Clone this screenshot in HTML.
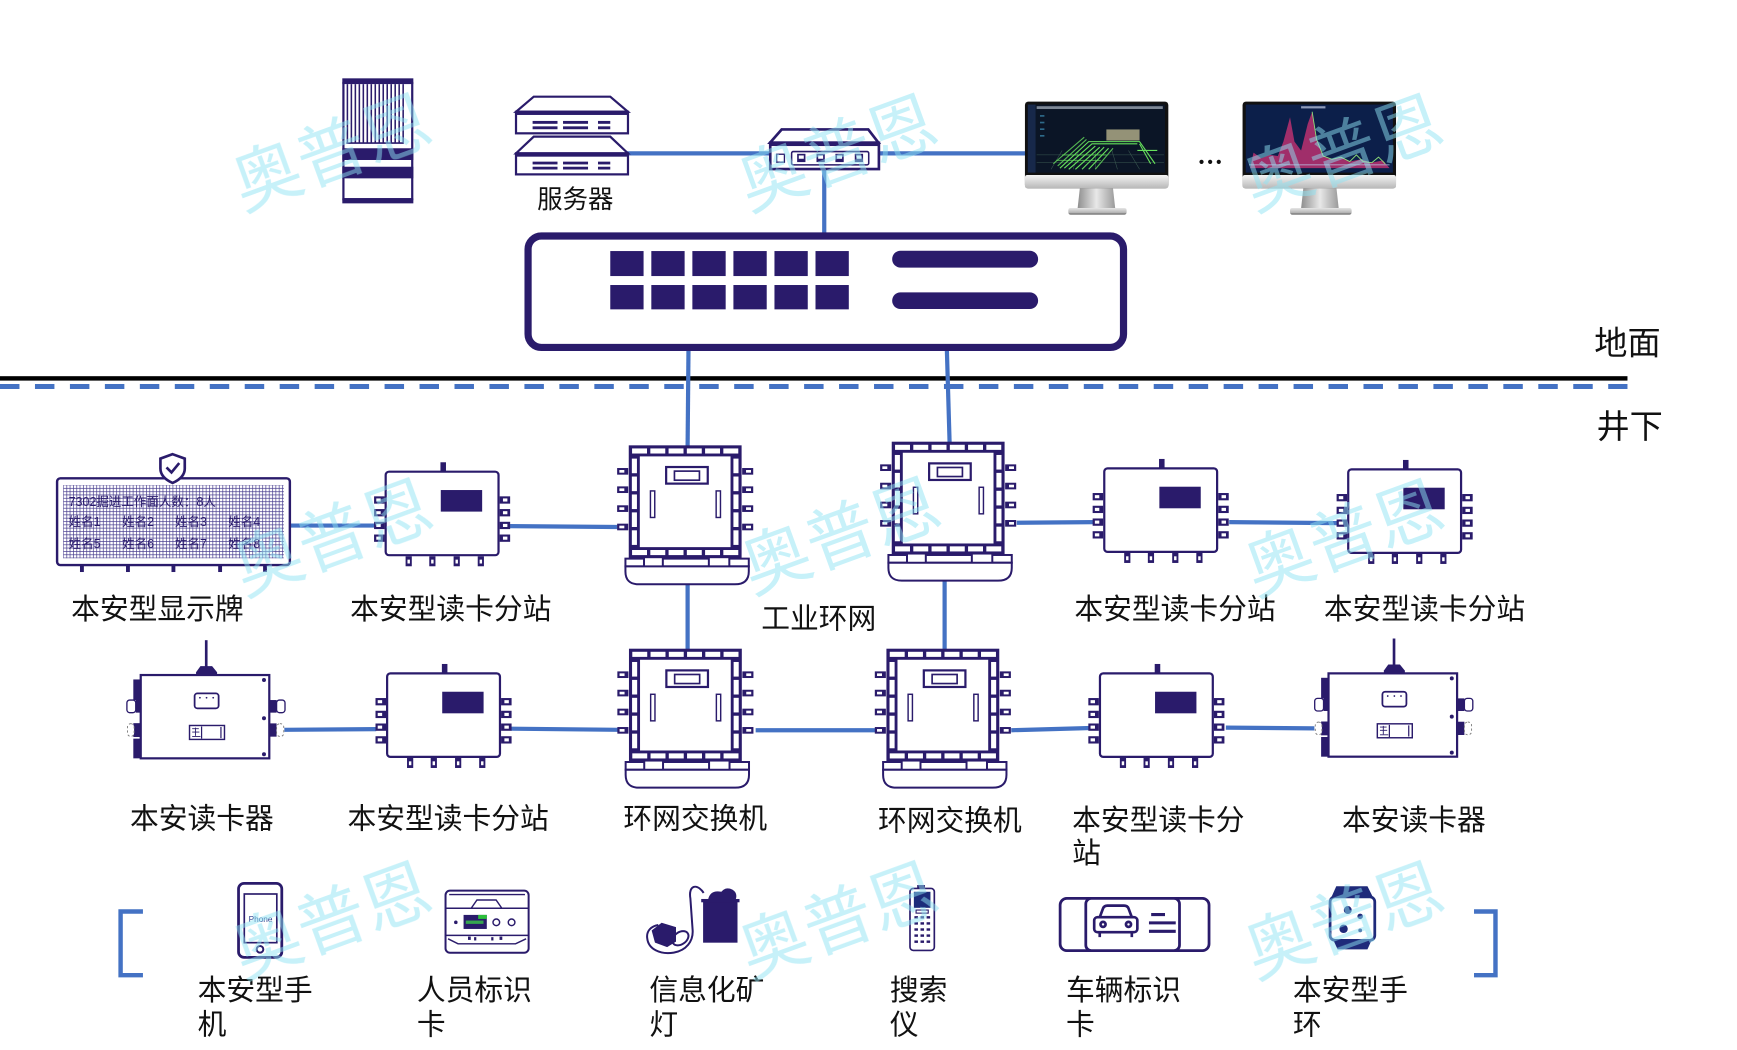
<!DOCTYPE html>
<html><head><meta charset="utf-8"><style>
html,body{margin:0;padding:0;background:#fff;overflow:hidden;}
svg{display:block;}
text{font-family:"Liberation Sans","Noto Sans CJK SC",sans-serif;}
</style></head><body>
<svg width="1737" height="1050" viewBox="0 0 1570 949" preserveAspectRatio="none" xmlns="http://www.w3.org/2000/svg">
<defs>
 <pattern id="grid" width="3" height="3" patternUnits="userSpaceOnUse">
  <rect width="3" height="3" fill="#fff"/>
  <path d="M0,0.3H3M0.3,0V3" stroke="#4a3f90" stroke-width="0.65"/>
 </pattern>
 <linearGradient id="silver" x1="0" y1="0" x2="0" y2="1">
  <stop offset="0" stop-color="#f4f4f4"/><stop offset="1" stop-color="#b8b8b8"/>
 </linearGradient>
 <linearGradient id="neck" x1="0" y1="0" x2="1" y2="0">
  <stop offset="0" stop-color="#8e8e8e"/><stop offset="0.5" stop-color="#e8e8e8"/><stop offset="1" stop-color="#9a9a9a"/>
 </linearGradient>
 <linearGradient id="base" x1="0" y1="0" x2="0" y2="1">
  <stop offset="0" stop-color="#e6e6e6"/><stop offset="0.7" stop-color="#b5b5b5"/><stop offset="1" stop-color="#555"/>
 </linearGradient>

 <g id="station">
  <rect x="0" y="0" width="102" height="75.5" rx="3" fill="#fff" stroke="#2a1b6b" stroke-width="2"/>
  <rect x="49.5" y="-8.5" width="5" height="8.5" fill="#2a1b6b"/>
  <rect x="49.8" y="16.6" width="37.4" height="19.5" fill="#2a1b6b"/>
  <g fill="#2a1b6b">
   <rect x="-10.5" y="22.3" width="9.5" height="6.6"/><rect x="-10.5" y="33.8" width="9.5" height="6.6"/>
   <rect x="-10.5" y="45.3" width="9.5" height="6.6"/><rect x="-10.5" y="56.8" width="9.5" height="6.6"/>
   <rect x="103" y="22.3" width="9.5" height="6.6"/><rect x="103" y="33.8" width="9.5" height="6.6"/>
   <rect x="103" y="45.3" width="9.5" height="6.6"/><rect x="103" y="56.8" width="9.5" height="6.6"/>
   <rect x="18" y="76.5" width="5.6" height="9"/><rect x="39.4" y="76.5" width="5.6" height="9"/>
   <rect x="61.4" y="76.5" width="5.6" height="9"/><rect x="83.2" y="76.5" width="5.6" height="9"/>
  </g>
  <g fill="#fff">
   <rect x="-8.5" y="24.2" width="4" height="2.8"/><rect x="-8.5" y="35.7" width="4" height="2.8"/>
   <rect x="-8.5" y="47.2" width="4" height="2.8"/><rect x="-8.5" y="58.7" width="4" height="2.8"/>
   <rect x="106" y="24.2" width="4" height="2.8"/><rect x="106" y="35.7" width="4" height="2.8"/>
   <rect x="106" y="47.2" width="4" height="2.8"/><rect x="106" y="58.7" width="4" height="2.8"/>
   <rect x="19.7" y="79.5" width="2.2" height="3.5"/><rect x="41.1" y="79.5" width="2.2" height="3.5"/>
   <rect x="63.1" y="79.5" width="2.2" height="3.5"/><rect x="84.9" y="79.5" width="2.2" height="3.5"/>
  </g>
 </g>

 <g id="rsw">
  <rect x="0" y="0" width="102" height="102" fill="#2a1b6b"/>
  <g fill="#fff">
   <rect x="3" y="2.8" width="13.5" height="4.6"/><rect x="19.5" y="2.8" width="13.5" height="4.6"/>
   <rect x="36" y="2.8" width="13.5" height="4.6"/><rect x="52.5" y="2.8" width="13.5" height="4.6"/>
   <rect x="69" y="2.8" width="13.5" height="4.6"/><rect x="85.5" y="2.8" width="13.5" height="4.6"/>
   <rect x="3" y="94.6" width="13.5" height="4.6"/><rect x="19.5" y="94.6" width="13.5" height="4.6"/>
   <rect x="36" y="94.6" width="13.5" height="4.6"/><rect x="52.5" y="94.6" width="13.5" height="4.6"/>
   <rect x="69" y="94.6" width="13.5" height="4.6"/><rect x="85.5" y="94.6" width="13.5" height="4.6"/>
   <rect x="2.8" y="12" width="4.6" height="13.2"/><rect x="2.8" y="28.2" width="4.6" height="13.2"/>
   <rect x="2.8" y="44.4" width="4.6" height="13.2"/><rect x="2.8" y="60.6" width="4.6" height="13.2"/>
   <rect x="2.8" y="76.8" width="4.6" height="13.2"/>
   <rect x="94.6" y="12" width="4.6" height="13.2"/><rect x="94.6" y="28.2" width="4.6" height="13.2"/>
   <rect x="94.6" y="44.4" width="4.6" height="13.2"/><rect x="94.6" y="60.6" width="4.6" height="13.2"/>
   <rect x="94.6" y="76.8" width="4.6" height="13.2"/>
   <rect x="10" y="10" width="82" height="82"/>
  </g>
  <rect x="33.8" y="19.6" width="37.6" height="15" fill="#fff" stroke="#2a1b6b" stroke-width="2"/>
  <rect x="41.3" y="23.3" width="22.6" height="8.2" fill="none" stroke="#2a1b6b" stroke-width="1.5"/>
  <rect x="19.6" y="41.2" width="3.9" height="24" fill="#fff" stroke="#2a1b6b" stroke-width="1.3"/>
  <rect x="79" y="41.2" width="3.9" height="24" fill="#fff" stroke="#2a1b6b" stroke-width="1.3"/>
  <g fill="#2a1b6b">
   <rect x="-10.5" y="20.5" width="10" height="6"/><rect x="-10.5" y="37.1" width="10" height="6"/>
   <rect x="-10.5" y="54.2" width="10" height="6"/><rect x="-10.5" y="70.8" width="10" height="6"/>
   <rect x="102.5" y="20.5" width="10" height="6"/><rect x="102.5" y="37.1" width="10" height="6"/>
   <rect x="102.5" y="54.2" width="10" height="6"/><rect x="102.5" y="70.8" width="10" height="6"/>
  </g>
  <g fill="#fff">
   <rect x="-8.5" y="22.3" width="4.5" height="2.4"/><rect x="-8.5" y="38.9" width="4.5" height="2.4"/>
   <rect x="-8.5" y="56" width="4.5" height="2.4"/><rect x="-8.5" y="72.6" width="4.5" height="2.4"/>
   <rect x="106" y="22.3" width="4.5" height="2.4"/><rect x="106" y="38.9" width="4.5" height="2.4"/>
   <rect x="106" y="56" width="4.5" height="2.4"/><rect x="106" y="72.6" width="4.5" height="2.4"/>
  </g>
  <g fill="#fff" stroke="#2a1b6b" stroke-width="1.8">
   <rect x="-3" y="102.4" width="16.8" height="7"/>
   <rect x="30.8" y="102.4" width="41.6" height="7"/>
   <rect x="90.9" y="102.4" width="17.6" height="7"/>
   <path d="M-3,109.4 H108.5 V114 Q108.5,125.6 96,125.6 H9 Q-3,125.6 -3,114 Z"/>
  </g>
 </g>

 <g id="rdr">
  <rect x="0" y="0" width="116.2" height="75.3" fill="#fff" stroke="#2a1b6b" stroke-width="2"/>
  <rect x="58" y="-31.5" width="2.4" height="26" fill="#2a1b6b"/>
  <polygon points="54,-8 64.5,-8 69,-2.5 69,0 50,0 50,-2.5" fill="#2a1b6b"/>
  <g fill="#2a1b6b">
   <rect x="-6.7" y="4" width="7" height="18.6"/>
   <rect x="-4.5" y="22" width="4.5" height="12"/>
   <rect x="-6.7" y="43.5" width="7" height="12.5"/>
   <rect x="-6.7" y="57.5" width="7" height="17.8"/>
   <rect x="116" y="22.6" width="6.8" height="11.4"/>
   <rect x="116" y="43.7" width="6.8" height="12"/>
  </g>
  <rect x="-12.5" y="22.6" width="8" height="11.4" rx="2.5" fill="#fff" stroke="#2a1b6b" stroke-width="1.2"/>
  <rect x="-12" y="44" width="6" height="11.5" rx="3" fill="#fff" stroke="#777" stroke-width="0.8" stroke-dasharray="2 2"/>
  <rect x="122.8" y="22.6" width="7.6" height="11.4" rx="2.5" fill="#fff" stroke="#2a1b6b" stroke-width="1.2"/>
  <rect x="122.8" y="44" width="6.5" height="11.5" rx="3" fill="#fff" stroke="#777" stroke-width="0.8" stroke-dasharray="2 2"/>
  <rect x="48.7" y="16.6" width="21.7" height="13.5" rx="2.5" fill="#fff" stroke="#2a1b6b" stroke-width="1.6"/>
  <g fill="#2a1b6b"><circle cx="53.5" cy="20.5" r="0.8"/><circle cx="59.5" cy="20.5" r="0.8"/><circle cx="65.5" cy="20.5" r="0.8"/></g>
  <rect x="44.1" y="45.6" width="31.6" height="12.6" fill="#fff" stroke="#2a1b6b" stroke-width="1.3"/>
  <path d="M55,46.5 V57.5 M72.5,47 V57" stroke="#2a1b6b" stroke-width="1.1"/>
  <path d="M46.5,48.5 H52.5 M46.5,51.5 H53 M49.5,47.5 V55 M46.5,55.5 H54" stroke="#2a1b6b" stroke-width="0.8" fill="none"/>
  <g fill="#2a1b6b"><circle cx="111.4" cy="4.5" r="1.8"/><circle cx="111.4" cy="39.1" r="1.8"/><circle cx="111.4" cy="71.6" r="1.8"/></g>
 </g>
</defs>

<!-- ground lines -->
<rect x="0" y="340" width="1471" height="4" fill="#000"/>
<line x1="0" y1="349.3" x2="1471" y2="349.3" stroke="#4472c4" stroke-width="4.5" stroke-dasharray="17.6 14"/>

<!-- blue connectors -->
<g stroke="#4472c4" stroke-width="3.8" fill="none">
 <line x1="566" y1="138.6" x2="697" y2="138.6"/>
 <line x1="794" y1="138.6" x2="927" y2="138.6"/>
 <line x1="745" y1="152" x2="745" y2="212"/>
 <line x1="622.3" y1="315" x2="621.5" y2="403"/>
 <line x1="855.8" y1="315" x2="858.3" y2="400"/>
 <line x1="261" y1="475" x2="339" y2="475"/>
 <line x1="461" y1="475.5" x2="558" y2="476.3"/>
 <line x1="621.5" y1="527" x2="621.5" y2="587"/>
 <line x1="919" y1="472.5" x2="989" y2="471.9"/>
 <line x1="1111" y1="471.9" x2="1209" y2="472.8"/>
 <line x1="853.8" y1="524" x2="853.8" y2="587"/>
 <line x1="257" y1="659.6" x2="340" y2="659"/>
 <line x1="462" y1="658.6" x2="559" y2="659.6"/>
 <line x1="683" y1="660" x2="791" y2="660"/>
 <line x1="914" y1="660" x2="986" y2="658"/>
 <line x1="1108" y1="657.6" x2="1188" y2="658.3"/>
</g>

<!-- tower rack -->
<g>
 <rect x="309.4" y="70.8" width="64.2" height="5.2" fill="#2a1b6b"/>
 <rect x="310.4" y="75" width="62.2" height="105" fill="#fff" stroke="#2a1b6b" stroke-width="2"/>
 <g stroke="#2a1b6b" stroke-width="1.4">
  <path d="M314,76 V129 M317.6,76 V129 M321.2,76 V129 M324.8,76 V129 M328.4,76 V129 M332,76 V129 M335.6,76 V129 M339.2,76 V129 M342.8,76 V129 M346.4,76 V129 M350,76 V129 M353.6,76 V129 M357.2,76 V129 M360.8,76 V129 M364.4,76 V129"/>
  <path d="M313,129.3 H365"/>
 </g>
 <rect x="309.4" y="134" width="64.2" height="10.6" fill="#2a1b6b"/>
 <rect x="309.4" y="150.7" width="64.2" height="10.5" fill="#2a1b6b"/>
 <rect x="309.4" y="179.3" width="64.2" height="4.5" fill="#2a1b6b"/>
</g>

<!-- servers -->
<g fill="#fff" stroke="#2a1b6b" stroke-width="2">
 <path d="M482.4,87.4 H551.6 L567.6,101 H466.4 Z"/>
 <rect x="466.4" y="101" width="101.2" height="19.5"/>
 <path d="M482.4,123.5 H551.6 L567.6,138.6 H466.4 Z"/>
 <rect x="466.4" y="138.6" width="101.2" height="19"/>
</g>
<g fill="#2a1b6b">
 <rect x="466.4" y="100.9" width="101.2" height="3"/>
 <rect x="466.4" y="138.6" width="101.2" height="3"/>
 <rect x="481.4" y="109.3" width="22.5" height="2.6"/><rect x="508.9" y="109.3" width="22.6" height="2.6"/><rect x="540.5" y="109.3" width="11.1" height="2.6"/>
 <rect x="481.4" y="114.2" width="22.5" height="2.6"/><rect x="508.9" y="114.2" width="22.6" height="2.6"/><rect x="540.5" y="114.2" width="11.1" height="2.6"/>
 <rect x="481.4" y="146.1" width="22.5" height="2.5"/><rect x="508.9" y="146.1" width="22.6" height="2.5"/><rect x="540.5" y="146.1" width="11.1" height="2.5"/>
 <rect x="481.4" y="150.7" width="22.5" height="2.5"/><rect x="508.9" y="150.7" width="22.6" height="2.5"/><rect x="540.5" y="150.7" width="11.1" height="2.5"/>
</g>
<text x="520" y="188" font-size="23" text-anchor="middle" fill="#111">服务器</text>

<!-- hub -->
<g fill="#fff" stroke="#2a1b6b" stroke-width="2.4">
 <path d="M706.5,117 H784.8 L794,129 H696 Z"/>
 <rect x="696.2" y="129" width="98.2" height="23.8"/>
</g>
<rect x="696" y="128" width="98.6" height="4" fill="#2a1b6b"/>
<rect x="702" y="139.4" width="7" height="7.2" fill="#fff" stroke="#2a1b6b" stroke-width="1.2"/>
<rect x="715.5" y="137" width="69.7" height="12" rx="1.5" fill="#fff" stroke="#2a1b6b" stroke-width="1.4"/>
<g fill="#2a1b6b">
 <rect x="720.5" y="139" width="7.5" height="7.5"/><rect x="738" y="139" width="7.5" height="7.5"/>
 <rect x="755.1" y="139" width="7.5" height="7.5"/><rect x="772.6" y="139" width="7.5" height="7.5"/>
</g>
<g fill="#fff">
 <rect x="722" y="140.5" width="4.5" height="3"/><rect x="739.5" y="140.5" width="4.5" height="3"/>
 <rect x="756.6" y="140.5" width="4.5" height="3"/><rect x="774.1" y="140.5" width="4.5" height="3"/>
</g>

<!-- monitor 1 -->
<g>
 <rect x="926.4" y="91.9" width="129.6" height="78.3" rx="3" fill="#111"/>
 <rect x="926.4" y="158.2" width="129.6" height="12" rx="2" fill="url(#silver)"/>
 <rect x="929" y="94.5" width="124" height="61.5" fill="#0b1526"/>
 <rect x="929" y="94.5" width="7" height="61.5" fill="#17284a"/>
 <rect x="937" y="96" width="114" height="2.5" fill="#c9d3e0" opacity="0.6"/>
 <g stroke="#3b5a52" stroke-width="0.5">
  <path d="M937,140 H1052 M937,147 H1052 M950,153 L960,136 M970,153 L975,136 M990,153 L990,136 M1010,153 L1005,136 M1030,153 L1020,136"/>
 </g>
 <g stroke="#66e05c" stroke-width="1" fill="none">
  <path d="M958,152 L984,128 H1030 L1044,148"/>
  <path d="M962,152 L987,130 H1028"/>
  <path d="M966,153 L990,132 M972,153 L994,133 M978,153 L998,133 M984,153 L1002,134"/>
  <path d="M1030,130 L1040,148 M1028,136 H1046"/>
  <path d="M952,148 L980,124 M956,150 L982,126 M990,153 L1006,134" opacity="0.8"/>
  <path d="M960,140 H1000 M955,145 H995" opacity="0.6"/>
 </g>
 <g fill="#2e6a8a"><rect x="940" y="104" width="4" height="1.5"/><rect x="940" y="110" width="4" height="1.5"/><rect x="940" y="116" width="4" height="1.5"/><rect x="940" y="122" width="4" height="1.5"/></g>
 <rect x="1000" y="117" width="30" height="10" fill="#b7b28c" opacity="0.8"/>
 <polygon points="976,170.2 1006,170.2 1008,188.3 974,188.3" fill="url(#neck)"/>
 <rect x="965.6" y="188" width="52.7" height="6" rx="2" fill="url(#base)"/>
</g>
<g fill="#111"><circle cx="1086" cy="146.3" r="1.9"/><circle cx="1093.8" cy="146.3" r="1.9"/><circle cx="1101.6" cy="146.3" r="1.9"/></g>
<!-- monitor 2 -->
<g>
 <rect x="1123.1" y="91.9" width="138.7" height="78.3" rx="3" fill="#111"/>
 <rect x="1123.1" y="158.2" width="138.7" height="12" rx="2" fill="url(#silver)"/>
 <rect x="1126" y="94.5" width="133" height="61.5" fill="#0c1f4a"/>
 <path d="M1130,152 L1133,138 L1140,143 L1148,140 L1155,141 L1160,128 L1166,106 L1170,128 L1176,136 L1182,112 L1186,101 L1190,126 L1196,141 L1204,144 L1212,142 L1220,146 L1230,144 L1240,147 L1250,145 L1256,152 Z" fill="#b0306e" opacity="0.9"/>
 <path d="M1186,101 L1190,126 L1196,141 L1204,144 L1212,142 L1220,146 L1226,140 L1232,146 L1240,147 L1246,142 L1252,148" stroke="#8fe07a" stroke-width="0.8" fill="none"/>
 <line x1="1129" y1="149" x2="1256" y2="149" stroke="#b8c6e6" stroke-width="0.6"/>
 <rect x="1176" y="96" width="22" height="2" fill="#c8d2ea" opacity="0.7"/>
 <polygon points="1178,170.2 1208,170.2 1210,188.3 1176,188.3" fill="url(#neck)"/>
 <rect x="1166" y="188" width="55.7" height="6" rx="2" fill="url(#base)"/>
</g>

<!-- big switch -->
<rect x="477.3" y="213.3" width="538.2" height="100.7" rx="12" fill="#fff" stroke="#2a1b6b" stroke-width="6.5"/>
<g fill="#2a1b6b">
 <rect x="551.6" y="226.9" width="30.1" height="22.6"/><rect x="588.7" y="226.9" width="30.1" height="22.6"/>
 <rect x="625.8" y="226.9" width="30.1" height="22.6"/><rect x="662.9" y="226.9" width="30.1" height="22.6"/>
 <rect x="700" y="226.9" width="30.1" height="22.6"/><rect x="737.1" y="226.9" width="30.1" height="22.6"/>
 <rect x="551.6" y="257.6" width="30.1" height="22"/><rect x="588.7" y="257.6" width="30.1" height="22"/>
 <rect x="625.8" y="257.6" width="30.1" height="22"/><rect x="662.9" y="257.6" width="30.1" height="22"/>
 <rect x="700" y="257.6" width="30.1" height="22"/><rect x="737.1" y="257.6" width="30.1" height="22"/>
 <rect x="806.4" y="226.6" width="131.9" height="15.3" rx="7.6"/>
 <rect x="806.4" y="264.2" width="131.9" height="15.1" rx="7.5"/>
</g>

<text x="1471" y="320.5" font-size="30" text-anchor="middle" fill="#111">地面</text>
<text x="1473" y="396" font-size="30" text-anchor="middle" fill="#111">井下</text>

<!-- display board -->
<rect x="51.6" y="432.3" width="210.4" height="78.4" rx="3" fill="#fff" stroke="#2a1b6b" stroke-width="2.2"/>
<rect x="57.1" y="438.4" width="199.5" height="66.2" fill="url(#grid)"/>
<g font-size="11.3" fill="#2a1b6b">
 <text x="62" y="457.5">7302掘进工作面人数：8人</text>
 <text x="62" y="475.6">姓名1</text><text x="110.4" y="475.6">姓名2</text><text x="158.2" y="475.6">姓名3</text><text x="206.3" y="475.6">姓名4</text>
 <text x="62" y="495.1">姓名5</text><text x="110.4" y="495.1">姓名6</text><text x="158.2" y="495.1">姓名7</text><text x="206.3" y="495.1">姓名8</text>
</g>
<g fill="#2a1b6b">
 <rect x="72.3" y="511" width="3.5" height="6"/><rect x="113.9" y="511" width="3.5" height="6"/>
 <rect x="155" y="511" width="3.5" height="6"/><rect x="197.2" y="511" width="3.5" height="6"/>
 <rect x="237.8" y="511" width="3.5" height="6"/>
</g>
<path d="M156,410.5 L167,414.5 V423.5 Q167,431.5 156,436.5 Q145,431.5 145,423.5 V414.5 Z" fill="#fff" stroke="#2a1b6b" stroke-width="2.4"/>
<path d="M150.5,422.5 L155,427 L162,418.5" fill="none" stroke="#2a1b6b" stroke-width="2.4"/>

<!-- stations -->
<use href="#station" x="348.6" y="426.3"/>
<use href="#station" x="349.9" y="608.6"/>
<use href="#station" x="998.1" y="423.3"/>
<use href="#station" x="1218.6" y="424.2"/>
<use href="#station" x="994.2" y="608.6"/>

<!-- ring switches -->
<use href="#rsw" x="568.3" y="402.5"/>
<use href="#rsw" x="806" y="399.2"/>
<use href="#rsw" x="568.5" y="586.3"/>
<use href="#rsw" x="801.2" y="586.3"/>

<!-- readers -->
<use href="#rdr" x="127.2" y="610.1"/>
<use href="#rdr" x="1200.8" y="608.6"/>

<!-- labels -->
<g font-size="26" fill="#111">
 <text x="142.3" y="559.5" text-anchor="middle">本安型显示牌</text>
 <text x="407.4" y="559.5" text-anchor="middle">本安型读卡分站</text>
 <text x="740" y="568" text-anchor="middle">工业环网</text>
 <text x="1062" y="559.5" text-anchor="middle">本安型读卡分站</text>
 <text x="1287.5" y="559.5" text-anchor="middle">本安型读卡分站</text>
 <text x="182.5" y="749" text-anchor="middle">本安读卡器</text>
 <text x="405" y="749" text-anchor="middle">本安型读卡分站</text>
 <text x="628.4" y="749" text-anchor="middle">环网交换机</text>
 <text x="858.6" y="750.5" text-anchor="middle">环网交换机</text>
 <text x="969" y="750">本安型读卡分</text>
 <text x="969" y="780">站</text>
 <text x="1278" y="750" text-anchor="middle">本安读卡器</text>
 <text x="178.6" y="904">本安型手</text><text x="178.6" y="935">机</text>
 <text x="376.8" y="904">人员标识</text><text x="376.8" y="935">卡</text>
 <text x="587" y="904">信息化矿</text><text x="587" y="935">灯</text>
 <text x="804.3" y="904">搜索</text><text x="804.3" y="935">仪</text>
 <text x="963.5" y="904">车辆标识</text><text x="963.5" y="935">卡</text>
 <text x="1168.6" y="904">本安型手</text><text x="1168.6" y="935">环</text>
</g>

<!-- brackets -->
<path d="M129.2,823.8 H109 V881.4 H129.2" fill="none" stroke="#4472c4" stroke-width="4"/>
<path d="M1332.3,823.8 H1351.7 V881.4 H1332.3" fill="none" stroke="#4472c4" stroke-width="4"/>

<!-- phone -->
<rect x="215.6" y="798.4" width="39.1" height="66.9" rx="5" fill="#fff" stroke="#2a1b6b" stroke-width="2.5"/>
<rect x="220.8" y="808" width="29.4" height="44" fill="#fff" stroke="#2a1b6b" stroke-width="1.5"/>
<text x="235.5" y="833.5" font-size="7.5" text-anchor="middle" fill="#2a3a8a">Phone</text>
<circle cx="235" cy="858" r="3" fill="#fff" stroke="#2a1b6b" stroke-width="1.8"/>

<!-- person card -->
<rect x="402.7" y="805" width="75.1" height="56.1" rx="4" fill="#fff" stroke="#2a1b6b" stroke-width="1.8"/>
<g fill="none" stroke="#2a1b6b" stroke-width="1.3">
 <path d="M406,808.5 H474.5"/>
 <path d="M425.9,820.9 L431.1,813.4 H448.4 L453.6,820.9"/>
 <path d="M403,820.9 H477.5"/>
 <path d="M403,845.4 H477.5"/>
 <path d="M405,848.5 L414,853 H466 L475.5,848.5"/>
 <circle cx="448.6" cy="833.6" r="3"/>
 <circle cx="462.4" cy="833.6" r="3"/>
</g>
<circle cx="412" cy="833.6" r="1.6" fill="#2a1b6b"/>
<rect x="419" y="826.9" width="21" height="12.7" fill="#2a1b6b"/>
<rect x="432.2" y="826.9" width="7.8" height="3.6" fill="#2dbf3a"/>
<rect x="421" y="832" width="16" height="3" fill="#3ac94a" opacity="0.8"/>
<g fill="#2a1b6b"><rect x="423" y="846.5" width="2.5" height="3"/><rect x="428.5" y="847" width="2" height="3"/><rect x="444" y="847" width="2" height="3"/><rect x="451.5" y="846.5" width="2.5" height="3"/></g>

<!-- miner lamp -->
<rect x="635.5" y="815" width="31.1" height="37" fill="#2a1b6b"/>
<rect x="633.8" y="812.5" width="34.6" height="3" fill="#2a1b6b"/>
<path d="M640,813 Q642,804 652,806 Q656,801 662,804 Q667,807 665,813 Z" fill="#2a1b6b"/>
<path d="M636,807 C630,798 622,800 624,812 L626,840 C627,851 620,859 609,861 C597,863 586,858 585,848 C584,841 589,837 595,836" fill="none" stroke="#2a1b6b" stroke-width="1.8"/>
<polygon points="589,841 598,834 611,838 611,851 603,856 592,852" fill="#2a1b6b"/>
<ellipse cx="615" cy="848" rx="8" ry="5.5" transform="rotate(-35 615 848)" fill="none" stroke="#2a1b6b" stroke-width="1.8"/>

<!-- search device -->
<rect x="829" y="799.9" width="7" height="4" fill="#2a1b6b"/>
<rect x="822.5" y="803" width="22" height="56" rx="3" fill="#fff" stroke="#2a1b6b" stroke-width="1.5"/>
<rect x="826" y="806" width="15" height="14.5" fill="#1c2c7a"/>
<rect x="828" y="822.5" width="11" height="2.8" fill="none" stroke="#2a1b6b" stroke-width="1"/>
<g fill="#2a1b6b">
 <rect x="826.5" y="828" width="3.2" height="2.2"/><rect x="832" y="828" width="3.2" height="2.2"/><rect x="837.5" y="828" width="3.2" height="2.2"/>
 <rect x="826.5" y="833.5" width="3.2" height="2.2"/><rect x="832" y="833.5" width="3.2" height="2.2"/><rect x="837.5" y="833.5" width="3.2" height="2.2"/>
 <rect x="826.5" y="839" width="3.2" height="2.2"/><rect x="832" y="839" width="3.2" height="2.2"/><rect x="837.5" y="839" width="3.2" height="2.2"/>
 <rect x="826.5" y="844.5" width="3.2" height="2.2"/><rect x="832" y="844.5" width="3.2" height="2.2"/><rect x="837.5" y="844.5" width="3.2" height="2.2"/>
 <rect x="826.5" y="850" width="3.2" height="2.2"/><rect x="832" y="850" width="3.2" height="2.2"/><rect x="837.5" y="850" width="3.2" height="2.2"/>
</g>

<!-- vehicle card -->
<rect x="958.2" y="812" width="134.6" height="47.2" rx="6" fill="#fff" stroke="#2a1b6b" stroke-width="2.5"/>
<rect x="981.4" y="812" width="84.7" height="47.2" rx="5" fill="#fff" stroke="#2a1b6b" stroke-width="2.5"/>
<g fill="none" stroke="#2a1b6b" stroke-width="2.4">
 <path d="M994,829 L997,821 Q998,818.5 1001,818.5 H1016 Q1019,818.5 1020,821 L1023,829"/>
 <rect x="989" y="829" width="39" height="13.5" rx="3"/>
 <circle cx="997" cy="835.5" r="2.3"/><circle cx="1020" cy="835.5" r="2.3"/>
 <path d="M994,842.5 V847 M1023,842.5 V847"/>
</g>
<g stroke="#2a1b6b" stroke-width="2.8">
 <path d="M1040.5,826.6 H1053 M1038.5,834.1 H1062.7 M1038.5,841.7 H1062.7"/>
</g>

<!-- watch -->
<path d="M1207.8,801 H1236 L1241.5,812 H1202.9 Z" fill="#1f2a7a"/>
<path d="M1204.8,849 H1240 L1236,858 H1209 Z" fill="#1f2a7a"/>
<rect x="1202.2" y="810.6" width="40.4" height="39.3" rx="4.5" fill="#fff" stroke="#1f2a7a" stroke-width="2.5"/>
<g fill="#1f2a7a">
 <circle cx="1218.2" cy="822.5" r="3.6"/><circle cx="1229.4" cy="828.2" r="2.5"/>
 <circle cx="1214.4" cy="839.5" r="3.8"/><circle cx="1229.4" cy="840.9" r="1.7"/>
</g>

<!-- watermarks -->
<g font-size="62" fill="#8fe3f3" opacity="0.5" text-anchor="middle" dominant-baseline="central">
 <text x="300" y="139" transform="rotate(-20 300 139)">奥普恩</text>
 <text x="757" y="139" transform="rotate(-20 757 139)">奥普恩</text>
 <text x="1214" y="139" transform="rotate(-20 1214 139)">奥普恩</text>
 <text x="301" y="487" transform="rotate(-20 301 487)">奥普恩</text>
 <text x="760" y="485" transform="rotate(-20 760 485)">奥普恩</text>
 <text x="1215" y="487" transform="rotate(-20 1215 487)">奥普恩</text>
 <text x="300" y="833" transform="rotate(-20 300 833)">奥普恩</text>
 <text x="758" y="833" transform="rotate(-20 758 833)">奥普恩</text>
 <text x="1215" y="833" transform="rotate(-20 1215 833)">奥普恩</text>
</g>
</svg>
</body></html>
